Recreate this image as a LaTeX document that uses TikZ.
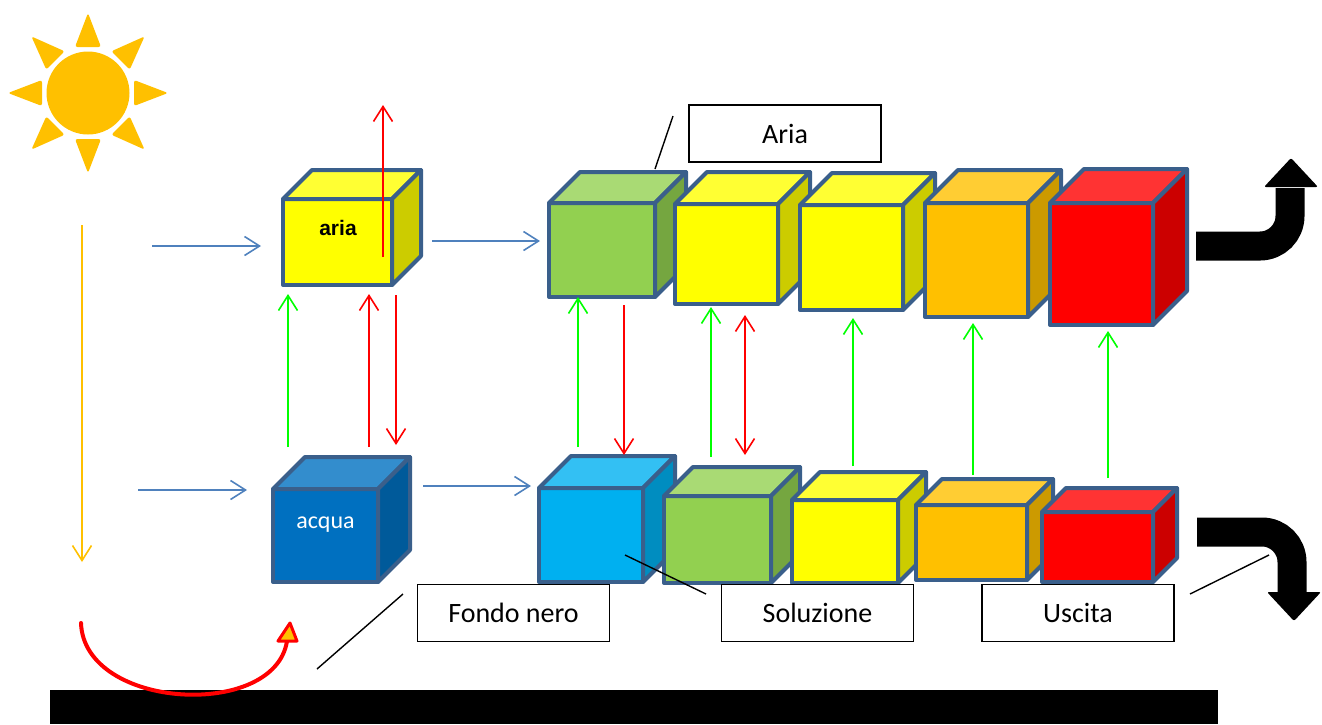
\documentclass[tikz,border=0pt]{standalone}
\usepackage{fontspec}
\setmainfont{Carlito}
\newfontfamily\heavysans{Liberation Sans}
\usetikzlibrary{arrows.meta}

\definecolor{cubeline}{HTML}{3A5F8B}
\definecolor{sunyellow}{HTML}{FFC000}
\definecolor{flowblue}{HTML}{4F81BD}
\definecolor{flowgreen}{HTML}{00FF00}
\definecolor{flowred}{HTML}{FF0000}
% face colours: front / top / side
\definecolor{yelF}{HTML}{FFFF00}\definecolor{yelT}{HTML}{FFFF33}\definecolor{yelS}{HTML}{CCCC00}
\definecolor{grnF}{HTML}{92D050}\definecolor{grnT}{HTML}{A9DA74}\definecolor{grnS}{HTML}{75A640}
\definecolor{orgF}{HTML}{FFC000}\definecolor{orgT}{HTML}{FFCD33}\definecolor{orgS}{HTML}{CC9A00}
\definecolor{redF}{HTML}{FF0000}\definecolor{redT}{HTML}{FF3333}\definecolor{redS}{HTML}{CC0000}
\definecolor{cyaF}{HTML}{00B0F0}\definecolor{cyaT}{HTML}{33C0F3}\definecolor{cyaS}{HTML}{008DC0}
\definecolor{dbuF}{HTML}{0070C0}\definecolor{dbuT}{HTML}{338DCD}\definecolor{dbuS}{HTML}{005A9A}

% cube: x1 y1 x2 y2 (front face), depth, front, top, side colours
\newcommand\drawcube[8]{%
  \filldraw[cubeedge, fill=#6] (#1,#2) rectangle (#3,#4);
  \filldraw[cubeedge, fill=#7] (#1,#2) -- ++(#5,-#5) -- ++(#3-#1,0) -- (#3,#2) -- cycle;
  \filldraw[cubeedge, fill=#8] (#3,#2) -- ++(#5,-#5) -- ++(0,#4-#2) -- (#3,#4) -- cycle;
}

\tikzset{
  cubeedge/.style={draw=cubeline, line width=4pt, line join=round},
  flow/.style={-{Straight Barb[length=15pt,width=19pt]}, line width=1.6pt},
  dflow/.style={{Straight Barb[length=15pt,width=19pt]}-{Straight Barb[length=15pt,width=19pt]}, line width=1.6pt},
  labelbox/.style={draw=black, line width=1.3pt, fill=white, minimum width=192pt,
    minimum height=57pt, inner sep=0pt, font=\fontsize{28}{32}\selectfont},
  leader/.style={draw=black, line width=1.4pt},
  bigarrow/.style={draw=black, line width=29pt, rounded corners=30pt},
}

\begin{document}
\begin{tikzpicture}[x=1pt, y=-1pt]
\useasboundingbox (0,0) rectangle (1322,724);

% sun
\fill[sunyellow] (88,93) circle (41.5);
\begin{scope}[shift={(88,93)}]
  \foreach \a in {0,45,...,315}
    \fill[sunyellow, rotate=\a, rounded corners=2.5pt] (80,0) -- (46,13) -- (46,-13) -- cycle;
\end{scope}

% ground
\fill[black] (50,690) rectangle (1218,724);

% single cubes
\drawcube{283}{199}{392}{285}{29}{yelF}{yelT}{yelS}
\drawcube{273}{489}{378}{582}{32}{dbuF}{dbuT}{dbuS}

% upper row
\drawcube{549}{203}{655}{297}{31}{grnF}{grnT}{grnS}
\drawcube{675}{204}{778}{304}{32}{yelF}{yelT}{yelS}
\drawcube{800}{205}{903}{310}{32}{yelF}{yelT}{yelS}
\drawcube{925}{203}{1028}{317}{33}{orgF}{orgT}{orgS}
\drawcube{1050}{203}{1153}{325}{34}{redF}{redT}{redS}

% lower row
\drawcube{539}{488}{643}{582}{32}{cyaF}{cyaT}{cyaS}
\drawcube{664}{496}{771}{583}{29}{grnF}{grnT}{grnS}
\drawcube{792}{500}{898}{583}{28}{yelF}{yelT}{yelS}
\drawcube{916}{505}{1027}{580}{26}{orgF}{orgT}{orgS}
\drawcube{1042}{512}{1153}{582}{24}{redF}{redT}{redS}

% cube texts
\node[font=\heavysans\bfseries\fontsize{21}{24}\selectfont, inner sep=0pt] (aria) at (338,228) {aria};
\node[font=\fontsize{24}{28}\selectfont, text=white, anchor=base, inner sep=0pt] (acqua) at (325.5,528) {acqua};

% sunlight
\draw[flow, sunyellow] (82,225) -- (82,562);

% horizontal flows
\draw[flow, flowblue] (152,246) -- (261,246);
\draw[flow, flowblue] (432,241) -- (540,241);
\draw[flow, flowblue] (138,490) -- (247,490);
\draw[flow, flowblue] (423,486) -- (531,486);

% exchanges around the single cubes
\draw[flow, flowgreen] (288,447) -- (288,294);
\draw[flow, flowred] (369,447) -- (369,294);
\draw[flow, flowred] (396,295) -- (396,445);
\draw[flow, flowred] (383,257) -- (383,105);

% exchanges between the rows
\draw[flow, flowgreen] (578,447) -- (578,297);
\draw[flow, flowred] (624,305) -- (624,455);
\draw[flow, flowgreen] (711,457) -- (711,307);
\draw[dflow, flowred] (745,315) -- (745,455);
\draw[flow, flowgreen] (853,466) -- (853,318);
\draw[flow, flowgreen] (973,475) -- (973,323);
\draw[flow, flowgreen] (1108,478) -- (1108,331);

% heat re-radiated from the black bottom
\draw[flowred, line width=4pt, line cap=round] (81,623) .. controls (84,710) and (275,720) .. (287,641);
\draw[flowred, fill=orgF, line width=3pt, line join=round] (290,623) -- (278,641) -- (297,641) -- cycle;

% outlet arrows
\draw[bigarrow] (1196,246) -- (1290,246) -- (1290,188);
\fill[black, rounded corners=2pt] (1264,187) -- (1291,158) -- (1318,187) -- cycle;
\draw[bigarrow] (1197,532) -- (1292,532) -- (1292,594);
\fill[black, rounded corners=2pt] (1267,592) -- (1294,621) -- (1321,592) -- cycle;

% labels
\node[labelbox] (lAria) at (785,133.5) {Aria};
\node[labelbox] (lFondo) at (513.5,613) {Fondo nero};
\node[labelbox] (lSol) at (817.5,613) {Soluzione};
\node[labelbox] (lUsc) at (1078,613) {Uscita};

% leader lines
\coordinate (a1) at (673,116); \coordinate (a2) at (655,169);
\coordinate (f1) at (403,594); \coordinate (f2) at (317,669);
\coordinate (s1) at (625,555); \coordinate (s2) at (706,594);
\coordinate (u1) at (1190,594); \coordinate (u2) at (1269,555);
\draw[leader] (a1) -- (a2);
\draw[leader] (f1) -- (f2);
\draw[leader] (s1) -- (s2);
\draw[leader] (u1) -- (u2);
\end{tikzpicture}
\end{document}
